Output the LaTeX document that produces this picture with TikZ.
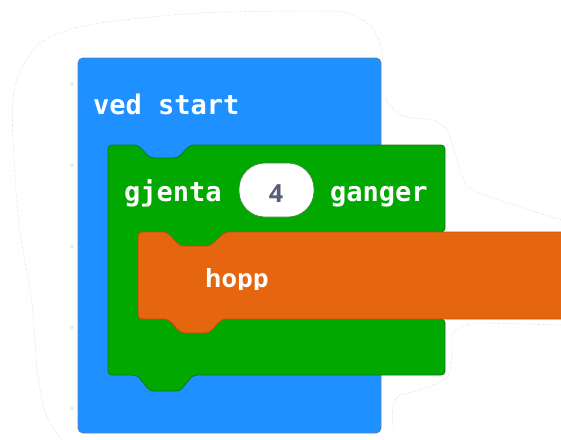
\documentclass[tikz,border=0pt]{standalone}
\usepackage{fontspec}
\usepackage{xcolor}
\usepackage{tikz}
\usetikzlibrary{positioning}

\newfontfamily\blockmono{DejaVu Sans Mono}
\newfontfamily\blocksans{Open Sans}

\definecolor{startblue}{HTML}{1E90FF}
\definecolor{startedge}{HTML}{5585C0}
\definecolor{loopgreen}{HTML}{00A800}
\definecolor{loopedge}{HTML}{0E7E12}
\definecolor{moveorange}{HTML}{E5660E}
\definecolor{moveedge}{HTML}{BC5210}
\definecolor{numbergray}{HTML}{575E75}

\begin{document}
\begin{tikzpicture}[x=1pt, y=-1pt,
    blockshape/.style={rounded corners=4pt, line width=0.9pt},
    monolabel/.style={anchor=base west, inner sep=0pt, text=white,
                      font=\blockmono\bfseries\fontsize{27}{27}\selectfont},
    sanslabel/.style={anchor=base west, inner sep=0pt, text=white,
                      font=\blocksans\bfseries\fontsize{25}{25}\selectfont},
    tinymark/.style={inner sep=0pt, text=gray!60, font=\fontsize{5}{5}\selectfont},
    haze/.style={gray!60, line width=0.5pt, dotted}
]

\useasboundingbox (0,0) rectangle (561,439);

% faint selection outline behind the stack
\draw[haze] plot[smooth] coordinates {(61,439) (45,412) (37,367) (32,303) (18,215)
    (13,98) (33,50) (60,33) (100,23) (200,13) (320,11) (347,13) (370,25) (380,43) (383,63)};
\draw[haze] plot[smooth] coordinates {(385,98) (397,113) (413,118) (433,120) (447,130)
    (453,147) (463,177) (477,192) (561,220)};
\draw[haze] plot[smooth] coordinates {(561,325) (480,323) (467,325) (453,333) (452,353)
    (447,377) (420,390) (400,395) (393,407) (393,427)};

\node[tinymark] (markA) at (72,85) {0};
\node[tinymark] (markB) at (72,166) {0};
\node[tinymark] (markC) at (72,247) {0};
\node[tinymark] (markD) at (72,328) {0};
\node[tinymark] (markE) at (72,409) {0};

% ved start
\draw[blockshape, rounded corners=5pt, fill=startblue, draw=startedge]
    (78,58) rectangle (381,433);

% gjenta ... ganger
\draw[blockshape, fill=loopgreen, draw=loopedge]
    (108,145) -- (138,145) -- (150,158) -- (178,158) -- (190,145) -- (445,145)
    -- (445,232) -- (225,232) -- (210,246) -- (180,246) -- (167,232) -- (138,232)
    -- (138,319) -- (168,319) -- (181,333) -- (209,333) -- (222,319) -- (445,319)
    -- (445,375) -- (193,375) -- (180,391) -- (150,391) -- (137,375) -- (108,375)
    -- cycle;

% hopp
\draw[blockshape, fill=moveorange, draw=moveedge]
    (138,232) -- (167,232) -- (180,246) -- (210,246) -- (225,232) -- (570,232)
    -- (570,319) -- (222,319) -- (209,333) -- (181,333) -- (168,319) -- (138,319)
    -- cycle;

\node[monolabel] (vedstart) at (93,114) {ved start};
\node[monolabel] (gjenta) at (124,201) {gjenta};
\node[monolabel] (ganger) at (330,201) {ganger};

\node[draw=loopedge!50!gray, line width=0.6pt, fill=white, rounded corners=26pt,
      minimum width=75pt, minimum height=54pt, inner sep=0pt] (countslot) at (276.5,190) {};
\node[inner sep=0pt, text=numbergray,
      font=\blocksans\bfseries\fontsize{25}{25}\selectfont] (count) at (276,193.5) {4};

\begin{scope}
  \clip (138,232) rectangle (561,289);
  \node[sanslabel] (hopp) at (205,287) {hopp};
\end{scope}

\end{tikzpicture}
\end{document}
